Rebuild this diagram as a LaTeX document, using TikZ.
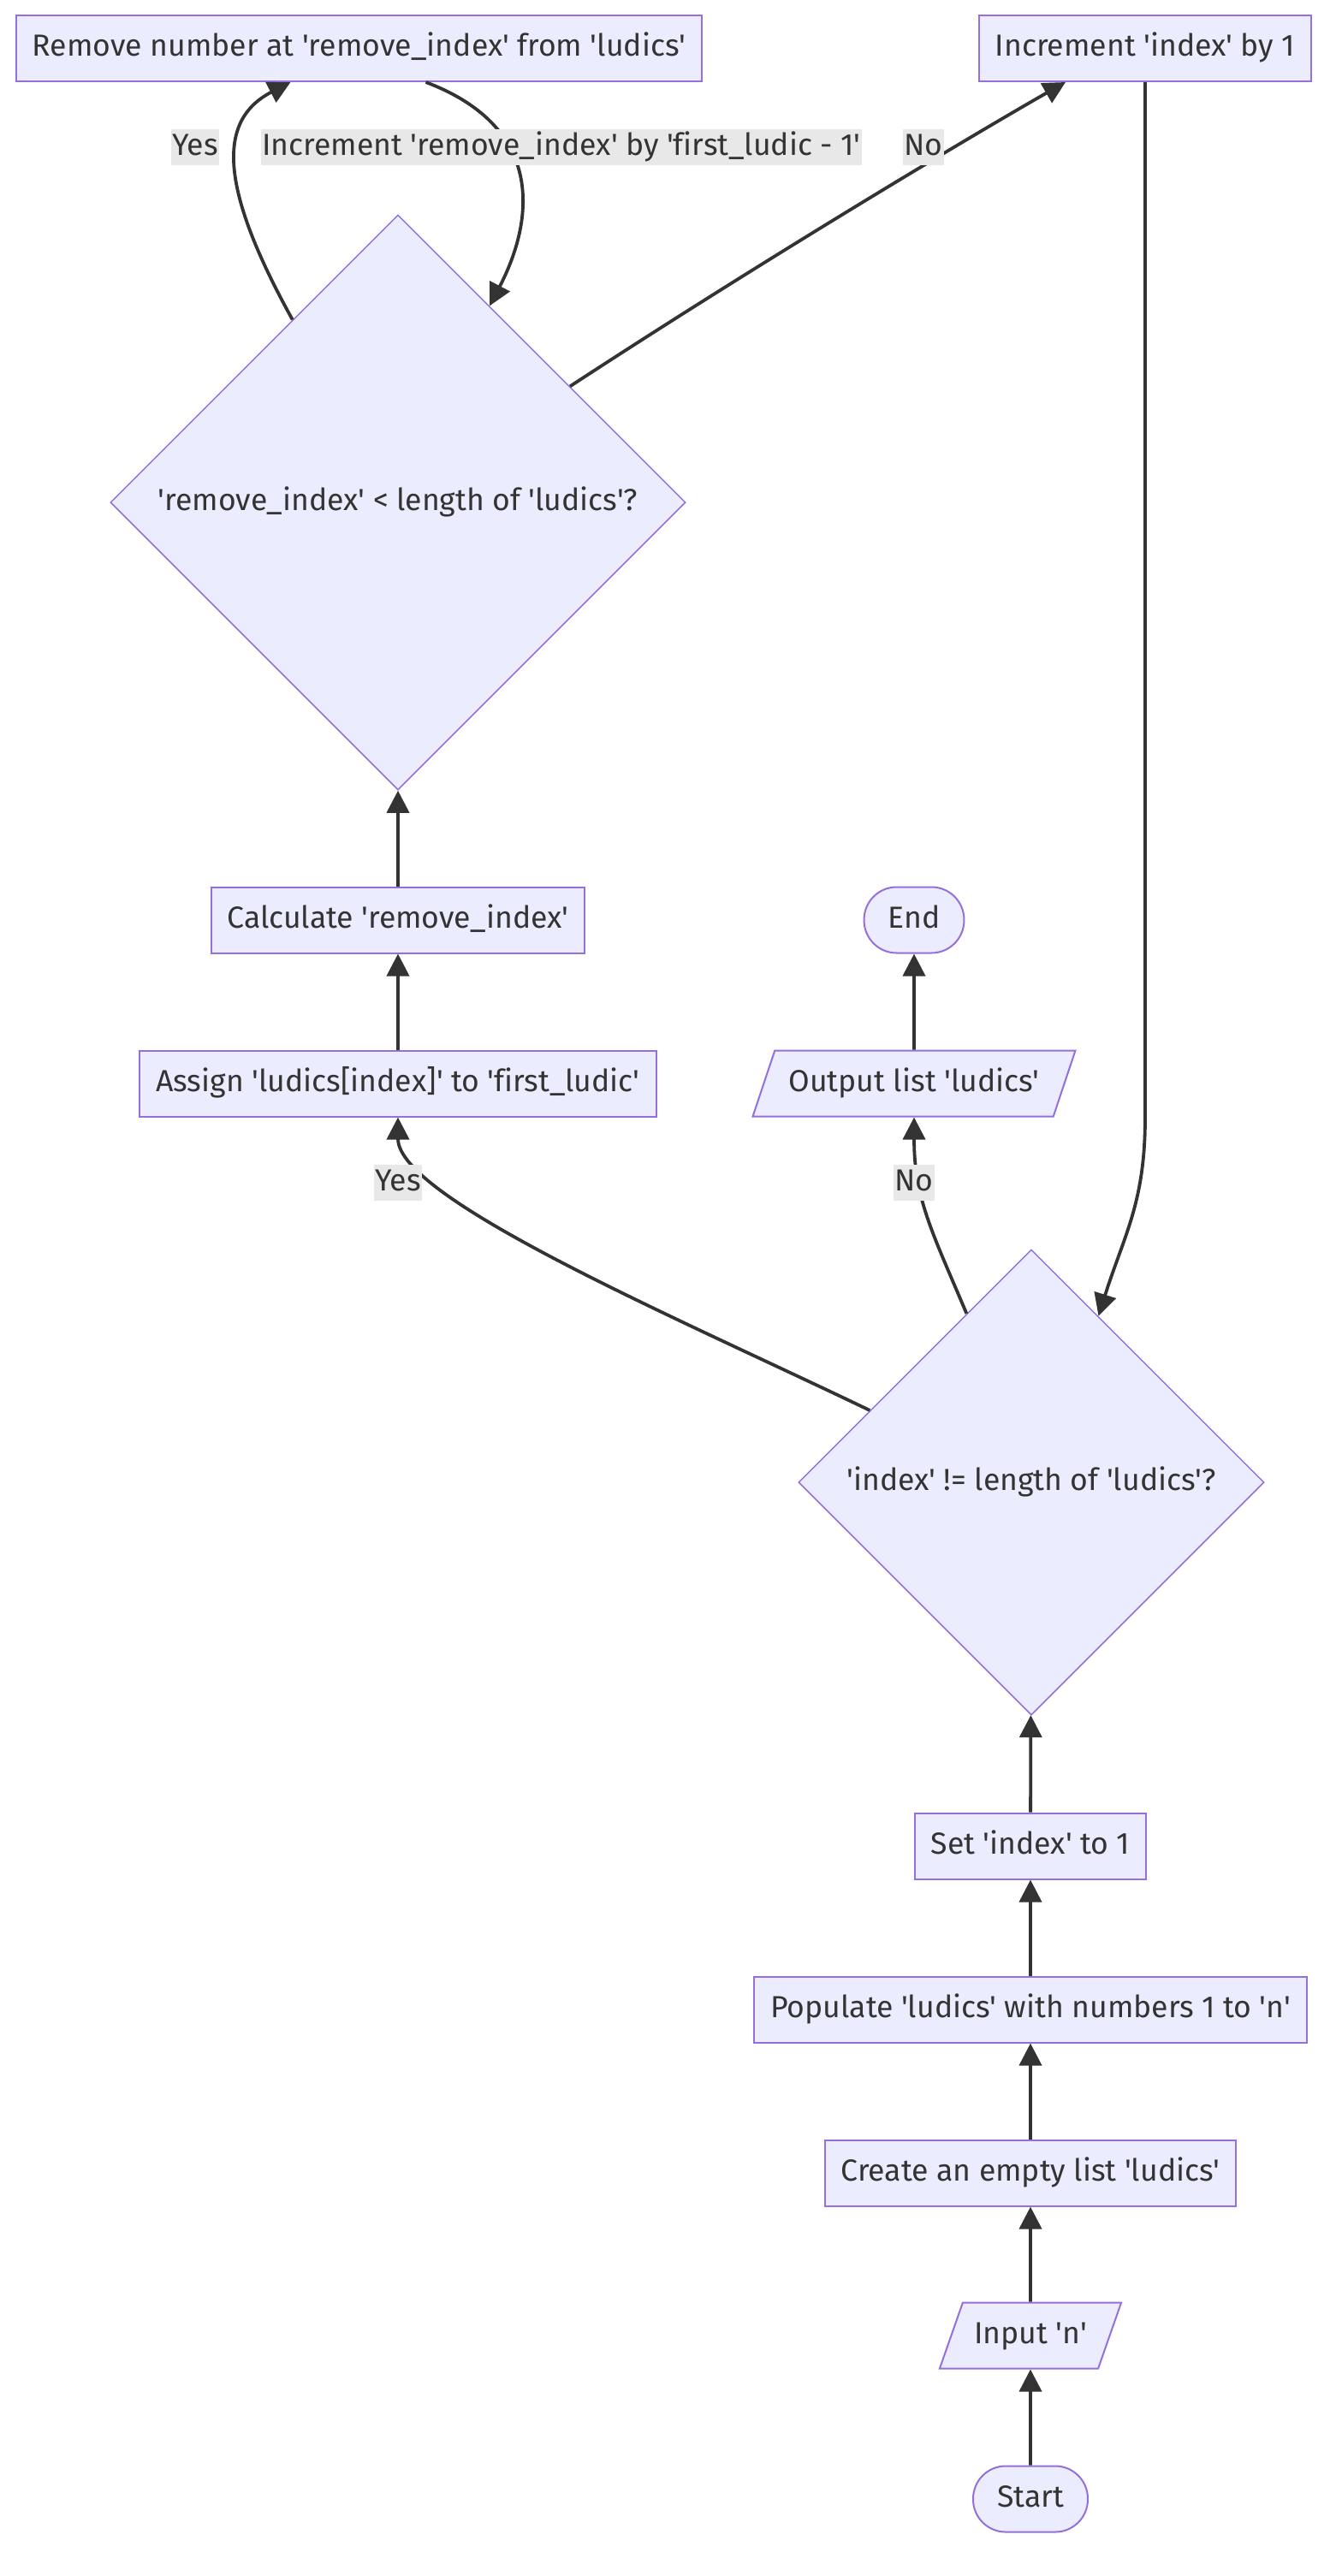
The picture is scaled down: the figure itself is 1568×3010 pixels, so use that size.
\documentclass[tikz,border=0pt]{standalone}
\usepackage{fontspec}
\setmainfont{Fira Sans}[Ligatures={TeXOff,CommonOff}]
\usepackage{tikz}
\usetikzlibrary{shapes.geometric,arrows.meta}
\definecolor{nodefill}{HTML}{ECECFF}
\definecolor{nodeline}{HTML}{9370DB}
\definecolor{edgeline}{HTML}{333333}
\definecolor{labelfill}{HTML}{E8E8E8}

\begin{document}
\begin{tikzpicture}[
  x=0.5pt, y=-0.5pt,
  every node/.style = {font=\fontsize{17.8}{21}\selectfont, text=edgeline, text height=13pt, text depth=3.7pt},
  box/.style = {shape=rectangle, draw=nodeline, fill=nodefill, line width=1pt, inner xsep=9.5pt, minimum height=38.5pt},
  term/.style = {box, rounded corners=19pt, inner xsep=14pt},
  io/.style = {shape=trapezium, trapezium left angle=63, trapezium right angle=117, trapezium stretches=true,
               draw=nodeline, fill=nodefill, line width=1pt, inner xsep=2pt, minimum height=38.5pt},
  decision/.style = {shape=diamond, aspect=1, draw=nodeline, fill=nodefill, line width=0.75pt, inner sep=0pt},
  lbl/.style = {fill=labelfill, inner xsep=0.5pt, inner ysep=2pt},
  flow/.style = {draw=edgeline, line width=1.9pt, -{Triangle[length=13pt,width=13pt]}}
]
  \useasboundingbox (0,0) rectangle (1568,3010);

  \node[box] (remove) at (419.5,56.5) {Remove number at 'remove\_index' from 'ludics'};
  \node[box] (incr) at (1338,56.5) {Increment 'index' by 1};
  \node[decision, minimum size=336pt] (cond1) at (465,587) {'remove\_index' < length of 'ludics'?};
  \node[box] (calc) at (465,1075) {Calculate 'remove\_index'};
  \node[box] (assign) at (465,1266) {Assign 'ludics[index]' to 'first\_ludic'};
  \node[term] (done) at (1068,1075) {End};
  \node[io, minimum width=188.5pt] (output) at (1068,1266) {Output list 'ludics'};
  \node[decision, minimum size=272pt] (cond2) at (1205,1732) {'index' != length of 'ludics'?};
  \node[box] (setidx) at (1204,2157) {Set 'index' to 1};
  \node[box] (populate) at (1204,2348) {Populate 'ludics' with numbers 1 to 'n'};
  \node[box] (create) at (1204,2539) {Create an empty list 'ludics'};
  \node[io, minimum width=107pt] (input) at (1204,2729) {Input 'n'};
  \node[term] (start) at (1204,2920) {Start};

  \draw[flow] (start) -- (input);
  \draw[flow] (input) -- (create);
  \draw[flow] (create) -- (populate);
  \draw[flow] (populate) -- (setidx);
  \draw[flow] (setidx) -- (cond2);
  \draw[flow] (cond2.156) .. controls +(-218,-105) and +(0,96) .. (assign.south);
  \draw[flow] (cond2.111) .. controls +(-40,-95) and +(0,95) .. (output.south);
  \draw[flow] (output) -- (done);
  \draw[flow] (assign) -- (calc);
  \draw[flow] (calc) -- (cond1);
  \draw[flow] (cond1.120) .. controls +(-87,-157) and +(-85,44) .. ([xshift=-40pt]remove.south);
  \draw[flow] ([xshift=39pt]remove.south) .. controls +(143,54) and +(50,-96) .. (cond1.65);
  \draw[flow] (cond1.34) .. controls +(234,-153) and +(-95,54) .. ([xshift=-46.5pt]incr.south);
  \draw[flow] (incr.south) -- (incr.south |- output.south) .. controls +(0,100) and +(30,-95) .. (cond2.68);

  \node[lbl] (yesrm) at (228,172) {Yes};
  \node[lbl] (incrrm) at (656,172) {Increment 'remove\_index' by 'first\_ludic - 1'};
  \node[lbl] (noidx) at (1079,172) {No};
  \node[lbl] (yesfirst) at (465,1382) {Yes};
  \node[lbl] (noout) at (1068,1382) {No};
\end{tikzpicture}
\end{document}
